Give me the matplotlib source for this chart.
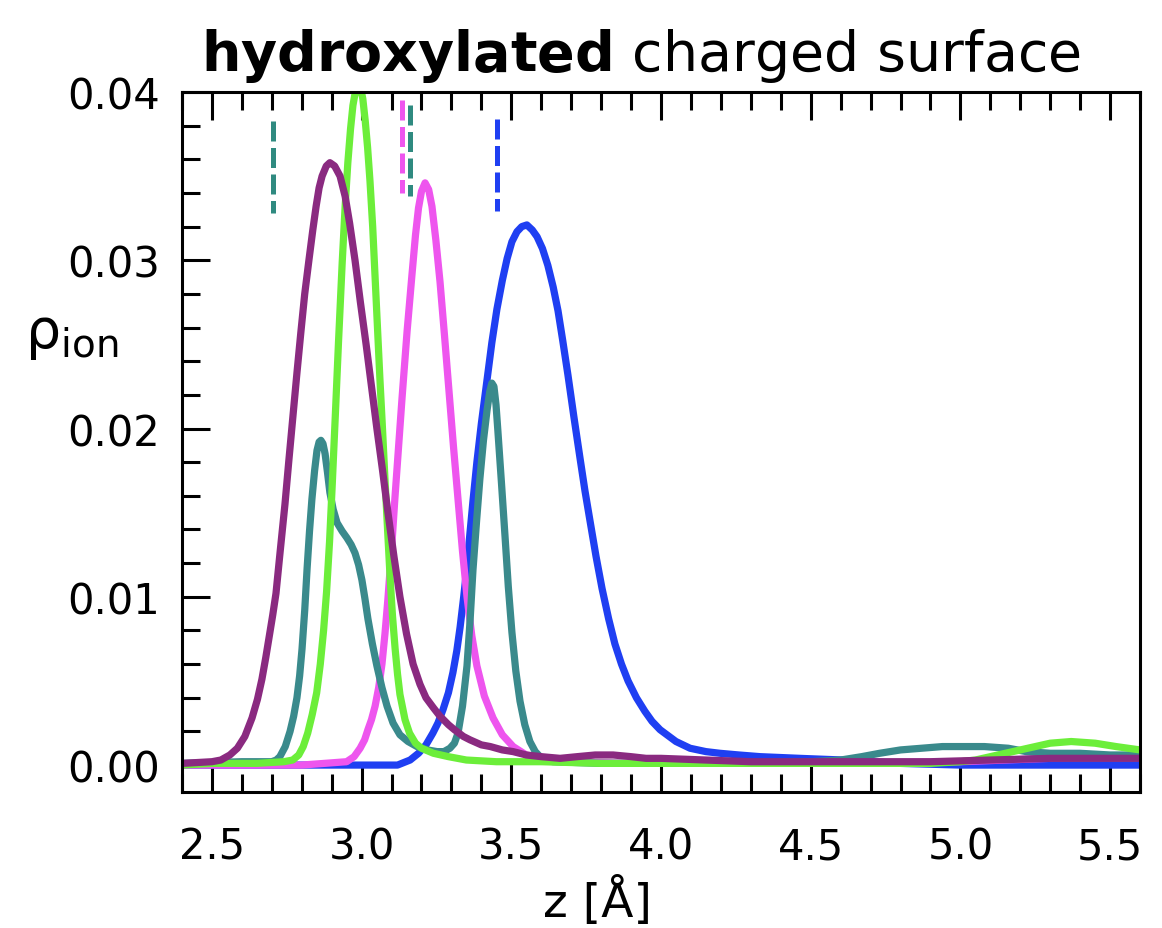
import matplotlib.pyplot as plt
from matplotlib.ticker import MultipleLocator, FormatStrFormatter

# ion density profiles (z [Å], rho)
purple = [(2.40, 0.0001), (2.50, 0.0002), (2.53, 0.0003), (2.56, 0.0006), (2.585, 0.0010),
          (2.61, 0.0017), (2.634, 0.0028), (2.652, 0.0039), (2.667, 0.0051), (2.68, 0.0064),
          (2.692, 0.0077), (2.703, 0.0089), (2.714, 0.0102), (2.728, 0.0127), (2.744, 0.0155),
          (2.757, 0.0181), (2.771, 0.0208), (2.784, 0.0233), (2.797, 0.0257), (2.81, 0.0280),
          (2.824, 0.0300), (2.837, 0.0318), (2.848, 0.0332), (2.858, 0.0343), (2.868, 0.0350),
          (2.882, 0.0356), (2.894, 0.0358), (2.91, 0.0356), (2.928, 0.0350), (2.945, 0.0338),
          (2.96, 0.0322), (2.978, 0.0300), (2.996, 0.0275), (3.015, 0.0250), (3.033, 0.0225),
          (3.051, 0.0200), (3.07, 0.0175), (3.088, 0.0150), (3.108, 0.0124), (3.128, 0.0100),
          (3.15, 0.0078), (3.172, 0.0060), (3.195, 0.0048), (3.215, 0.0040), (3.24, 0.0034),
          (3.262, 0.0029), (3.29, 0.0024), (3.31, 0.0021), (3.34, 0.0017), (3.362, 0.0015),
          (3.40, 0.0012), (3.43, 0.0011), (3.47, 0.0009), (3.506, 0.0008), (3.55, 0.0006),
          (3.60, 0.0005), (3.663, 0.0004), (3.72, 0.0005), (3.78, 0.0006), (3.84, 0.0006),
          (3.90, 0.0005), (3.95, 0.0004), (4.00, 0.0004), (4.15, 0.0003), (4.30, 0.0002),
          (4.50, 0.0002), (4.70, 0.0002), (4.90, 0.0002), (5.10, 0.0003), (5.30, 0.0004),
          (5.45, 0.0004), (5.60, 0.0004)]

green = [(2.40, 0.0000), (2.50, 0.0001), (2.65, 0.0001), (2.74, 0.0002), (2.77, 0.0003),
         (2.79, 0.0006), (2.805, 0.0011), (2.82, 0.0019), (2.835, 0.0030), (2.85, 0.0043),
         (2.862, 0.0060), (2.873, 0.0080), (2.883, 0.0103), (2.893, 0.0133), (2.902, 0.0167),
         (2.912, 0.0207), (2.923, 0.0252), (2.935, 0.0298), (2.945, 0.0332), (2.954, 0.0358),
         (2.963, 0.0378), (2.971, 0.0392), (2.98, 0.0401), (2.988, 0.0405), (2.996, 0.0403),
         (3.004, 0.0396), (3.012, 0.0383), (3.02, 0.0367), (3.028, 0.0347), (3.037, 0.0320),
         (3.045, 0.0290), (3.053, 0.0260), (3.061, 0.0230), (3.07, 0.0199), (3.078, 0.0170),
         (3.087, 0.0139), (3.095, 0.0112), (3.103, 0.0089), (3.112, 0.0069), (3.12, 0.0054),
         (3.128, 0.0042), (3.145, 0.0027), (3.16, 0.0019), (3.18, 0.0013), (3.20, 0.0010),
         (3.24, 0.0007), (3.29, 0.0005), (3.35, 0.0003), (3.45, 0.0002), (3.60, 0.0002),
         (3.80, 0.0001), (4.00, 0.0001), (4.30, 0.0001), (4.60, 0.0001), (4.90, 0.0001),
         (5.00, 0.0002), (5.05, 0.0003), (5.10, 0.0005), (5.15, 0.0007), (5.20, 0.0009),
         (5.25, 0.0011), (5.30, 0.0013), (5.37, 0.0014), (5.45, 0.0013), (5.52, 0.0011),
         (5.60, 0.0009)]

pink = [(2.40, 0.0000), (2.80, 0.0000), (2.95, 0.0002), (2.975, 0.0005), (2.995, 0.0010),
        (3.01, 0.0015), (3.021, 0.0021), (3.033, 0.0027), (3.045, 0.0035), (3.057, 0.0046),
        (3.068, 0.0060), (3.078, 0.0078), (3.088, 0.0099), (3.10, 0.0128), (3.111, 0.0158),
        (3.123, 0.0188), (3.135, 0.0218), (3.152, 0.0258), (3.168, 0.0291), (3.18, 0.0315),
        (3.19, 0.0331), (3.20, 0.0341), (3.212, 0.0346), (3.224, 0.0342), (3.235, 0.0332),
        (3.248, 0.0312), (3.262, 0.0287), (3.277, 0.0255), (3.292, 0.0222), (3.307, 0.0189),
        (3.322, 0.0158), (3.337, 0.0127), (3.352, 0.0100), (3.368, 0.0077), (3.385, 0.0059),
        (3.41, 0.0041), (3.439, 0.0028), (3.47, 0.0018), (3.506, 0.0011), (3.55, 0.0006),
        (3.596, 0.0004), (3.70, 0.0002), (3.90, 0.0001), (4.20, 0.0001), (4.60, 0.0001),
        (5.00, 0.0002), (5.30, 0.0004), (5.60, 0.0006)]

blue = [(2.40, 0.0000), (3.00, 0.0000), (3.12, 0.0000), (3.162, 0.0003), (3.19, 0.0007),
        (3.215, 0.0012), (3.238, 0.0019), (3.255, 0.0025), (3.272, 0.0033), (3.29, 0.0043),
        (3.305, 0.0055), (3.318, 0.0068), (3.329, 0.0082), (3.341, 0.0100), (3.352, 0.0118),
        (3.362, 0.0138), (3.372, 0.0157), (3.385, 0.0180), (3.40, 0.0203), (3.419, 0.0229),
        (3.435, 0.0251), (3.452, 0.0271), (3.47, 0.0288), (3.486, 0.0301), (3.502, 0.0311),
        (3.519, 0.0317), (3.535, 0.0320), (3.552, 0.0321), (3.57, 0.0318), (3.586, 0.0314),
        (3.604, 0.0307), (3.622, 0.0297), (3.64, 0.0284), (3.656, 0.0270), (3.672, 0.0252),
        (3.689, 0.0232), (3.709, 0.0207), (3.729, 0.0183), (3.746, 0.0163), (3.763, 0.0145),
        (3.783, 0.0124), (3.803, 0.0105), (3.825, 0.0087), (3.846, 0.0072), (3.868, 0.0060),
        (3.89, 0.0050), (3.918, 0.0040), (3.946, 0.0032), (3.97, 0.0026), (3.997, 0.0021),
        (4.05, 0.0014), (4.097, 0.0010), (4.15, 0.0008), (4.197, 0.0007), (4.26, 0.0006),
        (4.331, 0.0005), (4.464, 0.0004), (4.608, 0.0003), (4.70, 0.0002), (4.80, 0.0001),
        (5.00, 0.0000), (5.30, 0.0000), (5.60, 0.0000)]

teal = [(2.40, 0.0001), (2.60, 0.0002), (2.70, 0.0002), (2.715, 0.0003), (2.727, 0.0005),
        (2.745, 0.0011), (2.761, 0.0020), (2.773, 0.0029), (2.784, 0.0040), (2.793, 0.0053),
        (2.801, 0.0069), (2.81, 0.0092), (2.818, 0.0117), (2.826, 0.0139), (2.834, 0.0158),
        (2.843, 0.0175), (2.851, 0.0187), (2.858, 0.0192), (2.864, 0.0193), (2.871, 0.0191),
        (2.878, 0.0185), (2.886, 0.0174), (2.894, 0.0162), (2.905, 0.0152), (2.918, 0.0144),
        (2.935, 0.0139), (2.951, 0.0135), (2.965, 0.0131), (2.978, 0.0126), (2.99, 0.0119),
        (3.001, 0.0110), (3.011, 0.0099), (3.021, 0.0087), (3.036, 0.0072), (3.051, 0.0059),
        (3.068, 0.0046), (3.085, 0.0035), (3.105, 0.0025), (3.128, 0.0018), (3.155, 0.0014),
        (3.185, 0.0011), (3.22, 0.0009), (3.252, 0.0008), (3.275, 0.0008), (3.295, 0.0010),
        (3.31, 0.0013), (3.322, 0.0019), (3.337, 0.0035), (3.352, 0.0059), (3.362, 0.0085),
        (3.372, 0.0116), (3.384, 0.0145), (3.395, 0.0170), (3.407, 0.0193), (3.419, 0.0211),
        (3.428, 0.0222), (3.435, 0.0227), (3.442, 0.0225), (3.449, 0.0214), (3.455, 0.0199),
        (3.467, 0.0168), (3.479, 0.0136), (3.49, 0.0106), (3.502, 0.0079), (3.515, 0.0056),
        (3.529, 0.0038), (3.545, 0.0024), (3.562, 0.0014), (3.58, 0.0008), (3.596, 0.0005),
        (3.62, 0.0003), (3.639, 0.0002), (3.80, 0.0001), (4.20, 0.0001), (4.50, 0.0002),
        (4.60, 0.0003), (4.67, 0.0005), (4.73, 0.0007), (4.80, 0.0009), (4.87, 0.0010),
        (4.94, 0.0011), (5.00, 0.0011), (5.08, 0.0011), (5.16, 0.0010), (5.22, 0.0008),
        (5.30, 0.0007), (5.40, 0.0007), (5.50, 0.0006), (5.60, 0.0006)]

# short dashed markers near the top
z_marks = [2.704, 3.136, 3.163, 3.453]
mark_lo = [0.0328, 0.0340, 0.0338, 0.0329]
mark_hi = [0.0383, 0.0395, 0.0392, 0.0384]

c_purple = "#8a2a80"
c_green = "#6cee3a"
c_pink = "#ee55ee"
c_blue = "#1f3ff2"
c_teal = "#3a8a8c"
mark_colors = ["#2f8a80", c_pink, "#2f8a80", c_blue]

fig = plt.figure(figsize=(11.62, 9.29), dpi=100)
ax = fig.add_axes([0.1566, 0.1464, 0.8245, 0.7535])

lw = 5.2
for curve, col in [(blue, c_blue), (pink, c_pink), (teal, c_teal),
                   (green, c_green), (purple, c_purple)]:
    zs, rs = zip(*curve)
    ax.plot(zs, rs, color=col, lw=lw, solid_joinstyle="round",
            solid_capstyle="round")

# dashes start at the top, like the reference
for zm, lo, hi, col in zip(z_marks, mark_lo, mark_hi, mark_colors):
    ax.plot([zm, zm], [hi, lo], color=col, lw=3.6, linestyle=(0, (4.0, 1.3)))

ax.set_xlim(2.4, 5.6)
ax.set_ylim(-0.0016, 0.04)

ax.xaxis.set_major_locator(MultipleLocator(0.5))
ax.xaxis.set_minor_locator(MultipleLocator(0.1))
ax.yaxis.set_major_locator(MultipleLocator(0.01))
ax.yaxis.set_minor_locator(MultipleLocator(0.002))
ax.xaxis.set_major_formatter(FormatStrFormatter("%.1f"))
ax.yaxis.set_major_formatter(FormatStrFormatter("%.2f"))

ax.tick_params(which="both", direction="in", top=True, right=False, width=2.2,
               labelsize=30)
ax.tick_params(which="major", length=20)
ax.tick_params(which="minor", length=13)
ax.tick_params(axis="x", pad=24)
ax.tick_params(axis="y", pad=16)
for s in ax.spines.values():
    s.set_linewidth(2.2)

ax.set_xlabel("z [Å]", fontsize=34, va="baseline")
ax.xaxis.set_label_coords(0.434, -0.177)
ax.set_ylabel(r"$\mathrm{\rho}_{\mathrm{ion}}$", fontsize=40, rotation=0,
              ha="left", va="baseline")
ax.yaxis.set_label_coords(-0.1640, 0.636)

fig.text(0.173, 0.9236, r"$\mathbf{hydroxylated}$ charged surface",
         fontsize=40, ha="left", va="baseline")

fig.savefig("out.png", dpi=100, facecolor="white")
